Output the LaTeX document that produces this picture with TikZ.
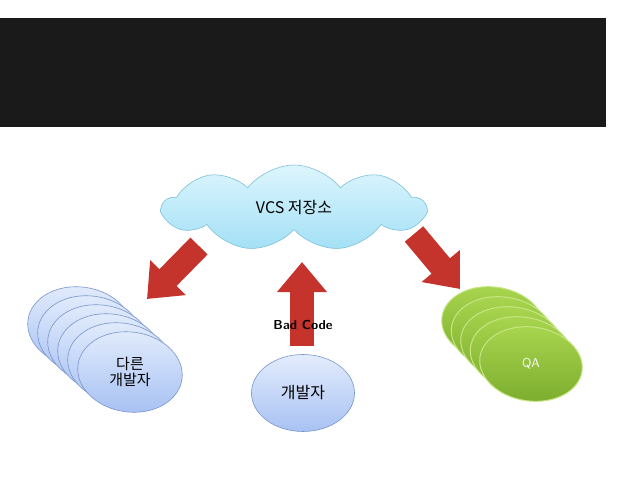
\documentclass[tikz,border=0pt]{standalone}
\usepackage{fontspec}
\newfontfamily\kr{Noto Sans CJK KR}
\usetikzlibrary{positioning}
\usetikzlibrary{shapes.geometric,shapes.symbols}
\usetikzlibrary{arrows.meta}
\definecolor{slidebar}{HTML}{1A1A1A}
\definecolor{arrowred}{HTML}{C4332C}
\definecolor{cloudtop}{HTML}{DDF5FD}
\definecolor{cloudbot}{HTML}{A3E0F6}
\definecolor{cloudline}{HTML}{7DC0DA}
\definecolor{bluetop}{HTML}{E3ECFC}
\definecolor{bluebot}{HTML}{A8C2F3}
\definecolor{blueline}{HTML}{7895CC}
\definecolor{greentop}{HTML}{AAD650}
\definecolor{greenbot}{HTML}{7DAE2E}
\definecolor{greenline}{HTML}{C6E684}
\tikzset{
  bluedisc/.style={ellipse, minimum width=105pt, minimum height=80pt, rotate=-8,
    top color=bluetop, bottom color=bluebot, draw=blueline, line width=0.6pt},
  greendisc/.style={ellipse, minimum width=103pt, minimum height=74pt, rotate=-8,
    top color=greentop, bottom color=greenbot, draw=greenline, line width=1pt},
  bigarrow/.style={line width=24pt, draw=arrowred, -{Triangle[length=30pt,width=48pt]}},
}
\begin{document}
\begin{tikzpicture}[x=1pt,y=-1pt]
  \useasboundingbox (0,0) rectangle (638,479);
  \fill[slidebar] (0,18) rectangle (606,127);
  \coordinate (lefttail) at (199,246);
  \coordinate (lefthead) at (147,299);
  \coordinate (midtail) at (302,346);
  \coordinate (midhead) at (302,262);
  \coordinate (righttail) at (414,234);
  \coordinate (righthead) at (460,289);
  \draw[bigarrow] (lefttail) -- (lefthead);
  \draw[bigarrow] (righttail) -- (righthead);
  \node[cloud, cloud puffs=9, cloud puff arc=105, aspect=3,
    minimum width=262pt, minimum height=86pt,
    top color=cloudtop, bottom color=cloudbot, draw=cloudline, line width=0.6pt,
    font=\kr\fontsize{16}{18}\selectfont] (repo) at (294,208) {VCS 저장소};
  \draw[bigarrow] (midtail) -- (midhead);
  \node[font=\sffamily\bfseries\fontsize{13}{15}\selectfont] (bad) at (303,325) {Bad Code};
  \foreach \i in {0,...,4}
    \node[bluedisc] (others\i) at ({80+10*\i},{327+9*\i}) {};
  \node[bluedisc, align=center, font=\kr\fontsize{15}{18}\selectfont] (others) at (130,372)
    {\rotatebox{8}{\shortstack{다른\\개발자}}};
  \node[ellipse, minimum width=103pt, minimum height=77pt,
    top color=bluetop, bottom color=bluebot, draw=blueline, line width=0.6pt,
    font=\kr\fontsize{16}{18}\selectfont] (dev) at (303,393) {개발자};
  \foreach \i in {0,...,3}
    \node[greendisc] (qa\i) at ({493+9.5*\i},{324+10*\i}) {};
  \node[greendisc, text=white, font=\sffamily\fontsize{13}{15}\selectfont] (qa) at (531,364)
    {\rotatebox{8}{QA}};
\end{tikzpicture}
\end{document}
